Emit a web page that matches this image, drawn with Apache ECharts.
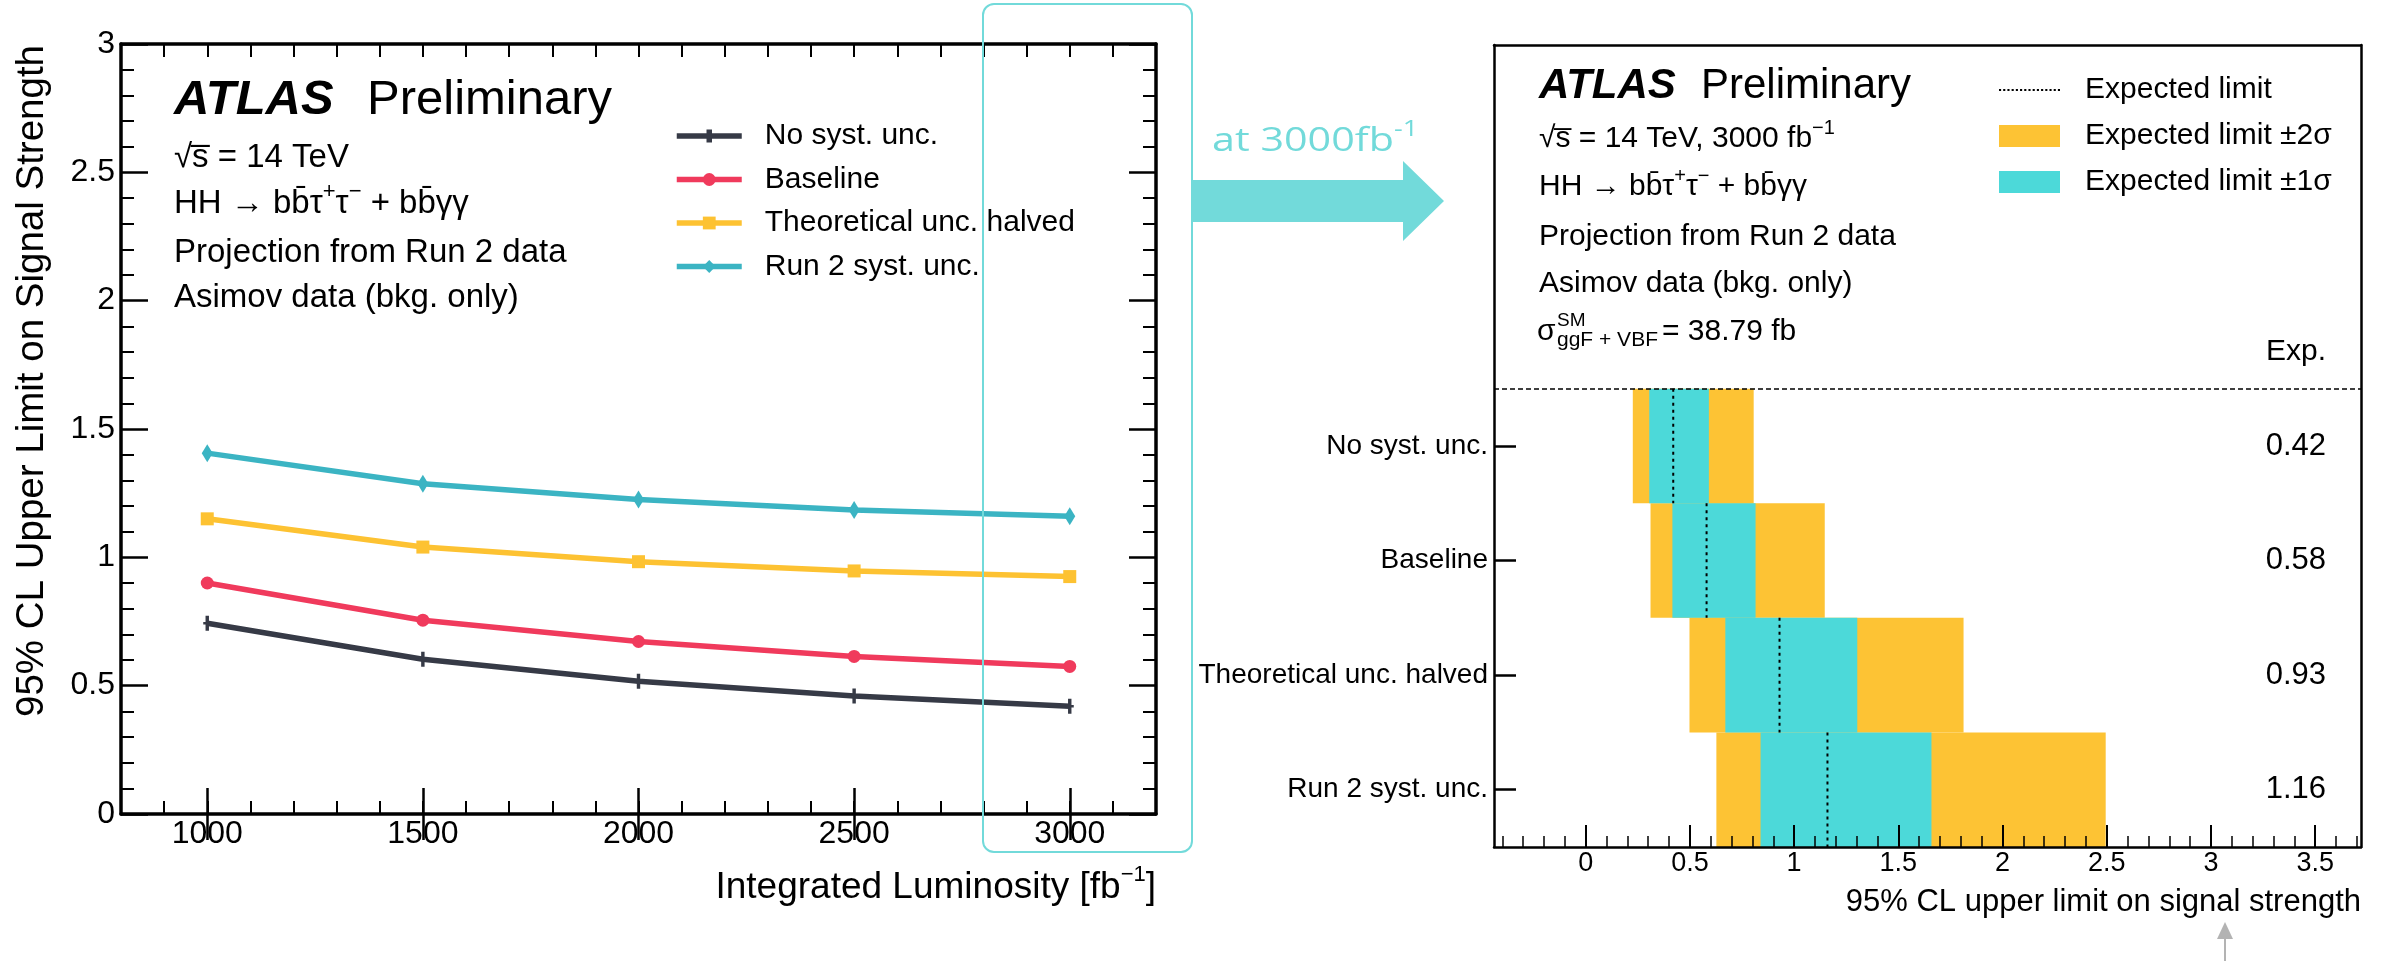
<!DOCTYPE html>
<html>
<head>
<meta charset="utf-8">
<script src="https://cdn.jsdelivr.net/npm/echarts@6/dist/echarts.min.js"></script>
<style>
html,body{margin:0;padding:0;background:#fff;}
#chart{width:2385px;height:961px;}
</style>
</head>
<body>
<div id="chart"></div>
<script>
// ---------- data: left panel (limit vs luminosity) ----------
const lumi = [1000, 1500, 2000, 2500, 3000];
const noSyst = [0.743, 0.603, 0.517, 0.460, 0.420];
const baseline = [0.900, 0.755, 0.672, 0.614, 0.575];
const theoryHalved = [1.150, 1.040, 0.983, 0.947, 0.925];
const run2Syst = [1.406, 1.287, 1.225, 1.184, 1.160];
const leftSeriesNames = ['No syst. unc.', 'Baseline', 'Theoretical unc. halved', 'Run 2 syst. unc.'];
const lumiMajorTicks = [1000, 1500, 2000, 2500, 3000];

// ---------- data: right panel (limits at 3000 fb-1) ----------
const scenarios = ['No syst. unc.', 'Baseline', 'Theoretical unc. halved', 'Run 2 syst. unc.'];
const expLimit = [0.42, 0.58, 0.93, 1.16];
const minus2 = [0.226, 0.311, 0.498, 0.627];
const minus1 = [0.305, 0.416, 0.670, 0.839];
const plus1 = [0.591, 0.815, 1.303, 1.659];
const plus2 = [0.806, 1.147, 1.813, 2.495];
const muMajorTicks = [0, 0.5, 1, 1.5, 2, 2.5, 3, 3.5];
const muMinorTicks = [-0.4,-0.3,-0.2,-0.1,0,0.1,0.2,0.3,0.4,0.5,0.6,0.7,0.8,0.9,1,1.1,1.2,1.3,1.4,1.5,1.6,1.7,1.8,1.9,2,2.1,2.2,2.3,2.4,2.5,2.6,2.7,2.8,2.9,3,3.1,3.2,3.3,3.4,3.5,3.6,3.7];
const rowCenters = [3.5, 2.5, 1.5, 0.5];

// ---------- styles ----------
const F = '"Liberation Sans", Arial, Helvetica, sans-serif';
const C_DARK = '#363a46', C_RED = '#f03a5c', C_YEL = '#fdc232', C_TEAL = '#3bb4c3';
const C_BAND2 = '#fdc334', C_BAND1 = '#4cd9d9', C_ARROW = '#72dada';
const plusPath = 'path://M2,0 H5 V12 H2 Z M0,5 H7 V7 H0 Z';
let dots = '';
for (let k = 0; k < 15; k++) dots += 'M' + (k * 4) + ',0h2v2h-2z';
const dottedIcon = 'path://' + dots;

const chart = echarts.init(document.getElementById('chart'), null, {renderer: 'canvas'});

function lineSeries(name, vals, color, symbol, size) {
  return {
    type: 'line', name, xAxisIndex: 0, yAxisIndex: 0,
    data: lumi.map((x, i) => [x, vals[i]]),
    symbol, symbolSize: size, showSymbol: true,
    lineStyle: {color, width: 5.5}, itemStyle: {color},
    z: 3
  };
}

function bandSeries(name, lo, hi, color) {
  return {
    type: 'custom', name, xAxisIndex: 4, yAxisIndex: 2,
    itemStyle: {color},
    encode: {x: [0, 1], y: 2},
    data: lo.map((v, i) => [v, hi[i], i]),
    renderItem: function (params, api) {
      const row = api.value(2);
      const yc = rowCenters[row];
      const a = api.coord([api.value(0), yc + 0.5]);
      const b = api.coord([api.value(1), yc - 0.5]);
      return {type: 'rect', shape: {x: a[0], y: a[1], width: b[0] - a[0], height: b[1] - a[1]},
              style: {fill: color}};
    },
    z: 2
  };
}

function txt(x, y, text, size, extra) {
  extra = extra || {};
  return {
    type: 'text', x, y, z: 100, silent: true,
    style: Object.assign({text, font: size + 'px ' + F, fill: '#000', align: 'left', verticalAlign: 'middle'}, extra)
  };
}

const supRich = (fs, lh) => ({
  sup: {fontSize: fs, fontFamily: F, verticalAlign: 'top', lineHeight: lh, fill: '#000'},
});

const graphics = [
  // left panel texts
  txt(174, 100, 'ATLAS', 49, {font: 'italic bold 49px ' + F}),
  txt(367, 100, 'Preliminary', 49),
  txt(174, 158, '\u221As\u0305 = 14 TeV', 33),
  txt(174, 204, 'HH \u2192 bb\u0304\u03C4{sup|+}\u03C4{sup|\u2212} + bb\u0304\u03B3\u03B3', 33,
      {lineHeight: 46, rich: supRich(22, 22)}),
  txt(174, 253, 'Projection from Run 2 data', 33),
  txt(174, 298, 'Asimov data (bkg. only)', 33),
  // left axis titles
  {type: 'text', x: 32, y: 45, rotation: Math.PI / 2, z: 100, silent: true,
   style: {text: '95% CL Upper Limit on Signal Strength', font: '38.5px ' + F, fill: '#000', align: 'right', verticalAlign: 'middle'}},
  txt(1156, 888, 'Integrated Luminosity [fb{sup|\u22121}]', 37, {align: 'right', lineHeight: 48, rich: supRich(22, 24)}),

  // right panel texts
  txt(1539, 86, 'ATLAS', 42, {font: 'italic bold 42px ' + F}),
  txt(1701, 86, 'Preliminary', 42),
  txt(1539, 139, '\u221As\u0305 = 14 TeV, 3000 fb{sup|\u22121}', 30, {lineHeight: 42, rich: supRich(20, 20)}),
  txt(1539, 187, 'HH \u2192 bb\u0304\u03C4{sup|+}\u03C4{sup|\u2212} + bb\u0304\u03B3\u03B3', 30,
      {lineHeight: 42, rich: supRich(20, 20)}),
  txt(1539, 237, 'Projection from Run 2 data', 30),
  txt(1539, 284, 'Asimov data (bkg. only)', 30),
  txt(1537, 332, '\u03C3', 30),
  txt(1557, 321, 'SM', 19),
  txt(1557, 340, 'ggF + VBF', 21),
  txt(1662, 332, '= 38.79 fb', 30),
  txt(2326, 352, 'Exp.', 30, {align: 'right'}),
  txt(2361, 902, '95% CL upper limit on signal strength', 31, {align: 'right'}),

  // highlight box around 3000 fb-1
  {type: 'rect', z: 90, silent: true, shape: {x: 983, y: 4, width: 209, height: 848, r: 11},
   style: {fill: 'none', stroke: C_ARROW, lineWidth: 2}},
  // big arrow
  {type: 'polygon', z: 90, silent: true,
   shape: {points: [[1192, 180], [1403, 180], [1403, 161], [1444, 201], [1403, 241], [1403, 222], [1192, 222]]},
   style: {fill: C_ARROW}},
  {type: 'text', x: 1212, y: 142, scaleX: 1.29, z: 100, silent: true,
   style: {text: 'at 3000fb{s|-1}', font: '32px "Open Sans", sans-serif', fill: C_ARROW, align: 'left', verticalAlign: 'middle',
           lineHeight: 44, rich: {s: {fontSize: 21, fontFamily: '"Open Sans", sans-serif', verticalAlign: 'top', lineHeight: 20, fill: C_ARROW}}}},
  // small grey arrow at bottom
  {type: 'line', z: 90, silent: true, shape: {x1: 2225, y1: 961, x2: 2225, y2: 936}, style: {stroke: '#b3b3b3', lineWidth: 2}},
  {type: 'polygon', z: 90, silent: true, shape: {points: [[2217, 939], [2233, 939], [2225, 922]]}, style: {fill: '#b3b3b3'}}
];

const axLine = (w) => ({show: true, onZero: false, lineStyle: {color: '#000', width: w}});
const noLabel = {show: false};
const noSplit = {show: false};

const option = {
  animation: false,
  backgroundColor: '#fff',
  grid: [
    {left: 121, top: 44, width: 1035, height: 770, containLabel: false},
    {left: 1494, top: 45, width: 867, height: 802, containLabel: false}
  ],
  legend: [
    {
      orient: 'vertical', left: 669, top: 116, itemWidth: 65, itemHeight: 16, itemGap: 13.5,
      data: leftSeriesNames,
      lineStyle: {width: 5.5},
      textStyle: {fontSize: 30, fontFamily: F, color: '#000', padding: [0, 0, 0, 18]},
      selectedMode: false
    },
    {
      orient: 'vertical', left: 1994, top: 70, itemWidth: 61, itemHeight: 22, itemGap: 16,
      symbolKeepAspect: true,
      data: [{name: 'Expected limit', icon: dottedIcon}, {name: 'Expected limit \u00B12\u03C3', icon: 'rect'}, {name: 'Expected limit \u00B11\u03C3', icon: 'rect'}],
      textStyle: {fontSize: 30, fontFamily: F, color: '#000', padding: [0, 0, 0, 20]},
      selectedMode: false
    }
  ],
  xAxis: [
    // 0: left bottom, minor ticks + labels
    {gridIndex: 0, type: 'value', position: 'bottom', min: 800, max: 3200, interval: 100, z: 5,
     axisLine: axLine(3.5), splitLine: noSplit,
     axisTick: {show: true, inside: true, length: 13, lineStyle: {color: '#000', width: 2}},
     axisLabel: {show: true, customValues: lumiMajorTicks, formatter: (v) => String(v),
                 fontSize: 32, fontFamily: F, color: '#000', margin: 4}},
    // 1: left bottom, major ticks
    {gridIndex: 0, type: 'value', position: 'bottom', min: 800, max: 3200, z: 5,
     axisLine: {show: false}, splitLine: noSplit, axisLabel: noLabel,
     axisTick: {show: true, inside: true, length: 26, customValues: lumiMajorTicks, lineStyle: {color: '#000', width: 2.5}}},
    // 2: left top, minor
    {gridIndex: 0, type: 'value', position: 'top', min: 800, max: 3200, interval: 100, z: 5,
     axisLine: axLine(3.5), splitLine: noSplit, axisLabel: noLabel,
     axisTick: {show: true, inside: true, length: 13, lineStyle: {color: '#000', width: 2}}},
    // 3: left top, major
    {gridIndex: 0, type: 'value', position: 'top', min: 800, max: 3200, z: 5,
     axisLine: {show: false}, splitLine: noSplit, axisLabel: noLabel,
     axisTick: {show: true, inside: true, length: 26, customValues: lumiMajorTicks, lineStyle: {color: '#000', width: 2.5}}},
    // 4: right bottom, minor ticks + labels
    {gridIndex: 1, type: 'value', position: 'bottom', min: -0.44, max: 3.72, z: 5,
     axisLine: axLine(2.5), splitLine: noSplit,
     axisTick: {show: true, inside: true, length: 11, customValues: muMinorTicks, lineStyle: {color: '#000', width: 1.5}},
     axisLabel: {show: true, customValues: muMajorTicks, fontSize: 27, fontFamily: F, color: '#000', margin: 3}},
    // 5: right bottom, major ticks
    {gridIndex: 1, type: 'value', position: 'bottom', min: -0.44, max: 3.72, z: 5,
     axisLine: {show: false}, splitLine: noSplit, axisLabel: noLabel,
     axisTick: {show: true, inside: true, length: 22, customValues: muMajorTicks, lineStyle: {color: '#000', width: 2}}},
    // 6: right top frame
    {gridIndex: 1, type: 'value', position: 'top', min: -0.44, max: 3.72, z: 5,
     axisLine: axLine(2.5), splitLine: noSplit, axisLabel: noLabel, axisTick: {show: false}}
  ],
  yAxis: [
    // 0: left panel left
    {gridIndex: 0, type: 'value', position: 'left', min: 0, max: 3, interval: 0.5, z: 5,
     axisLine: axLine(3.5), splitLine: noSplit,
     axisTick: {show: true, inside: true, length: 27, lineStyle: {color: '#000', width: 2.5}},
     minorTick: {show: true, splitNumber: 5, length: 13, lineStyle: {color: '#000', width: 2}},
     axisLabel: {fontSize: 32, fontFamily: F, color: '#000', margin: 6}},
    // 1: left panel right
    {gridIndex: 0, type: 'value', position: 'right', min: 0, max: 3, interval: 0.5, z: 5,
     axisLine: axLine(3.5), splitLine: noSplit, axisLabel: noLabel,
     axisTick: {show: true, inside: true, length: 27, lineStyle: {color: '#000', width: 2.5}},
     minorTick: {show: true, splitNumber: 5, length: 13, lineStyle: {color: '#000', width: 2}}},
    // 2: right panel left (scenario names)
    {gridIndex: 1, type: 'value', position: 'left', min: 0, max: 7, z: 5,
     axisLine: axLine(2.5), splitLine: noSplit,
     axisTick: {show: true, inside: true, length: 22, customValues: rowCenters, lineStyle: {color: '#000', width: 2.5}},
     axisLabel: {show: true, customValues: rowCenters, fontSize: 28, fontFamily: F, color: '#000', margin: 6,
                 formatter: (v) => scenarios[rowCenters.indexOf(v)] || ''}},
    // 3: right panel right (expected values)
    {gridIndex: 1, type: 'value', position: 'right', min: 0, max: 7, z: 5,
     axisLine: axLine(2.5), splitLine: noSplit, axisTick: {show: false},
     axisLabel: {show: true, inside: true, customValues: rowCenters, fontSize: 31, fontFamily: F, color: '#000', margin: 35,
                 formatter: (v) => { const i = rowCenters.indexOf(v); return i >= 0 ? expLimit[i].toFixed(2) : ''; }}}
  ],
  series: [
    lineSeries(leftSeriesNames[0], noSyst, C_DARK, plusPath, [8, 15]),
    lineSeries(leftSeriesNames[1], baseline, C_RED, 'circle', 13),
    lineSeries(leftSeriesNames[2], theoryHalved, C_YEL, 'rect', 13),
    lineSeries(leftSeriesNames[3], run2Syst, C_TEAL, 'diamond', [11, 18]),
    bandSeries('Expected limit \u00B12\u03C3', minus2, plus2, C_BAND2),
    bandSeries('Expected limit \u00B11\u03C3', minus1, plus1, C_BAND1),
    {
      type: 'custom', name: 'Expected limit', xAxisIndex: 4, yAxisIndex: 2, z: 4,
      itemStyle: {color: '#000'},
      encode: {x: 0, y: 1},
      data: expLimit.map((v, i) => [v, i]),
      renderItem: function (params, api) {
        const yc = rowCenters[api.value(1)];
        const a = api.coord([api.value(0), yc + 0.5]);
        const b = api.coord([api.value(0), yc - 0.5]);
        return {type: 'line', shape: {x1: a[0], y1: a[1], x2: b[0], y2: b[1]},
                style: {stroke: '#000', lineWidth: 2, lineDash: [3, 4]}};
      },
      markLine: {silent: true, symbol: 'none', label: {show: false},
                 lineStyle: {color: '#000', width: 1.5, type: [5, 3]},
                 data: [{yAxis: 4}]}
    }
  ],
  graphic: graphics
};

chart.setOption(option);
</script>
</body>
</html>
